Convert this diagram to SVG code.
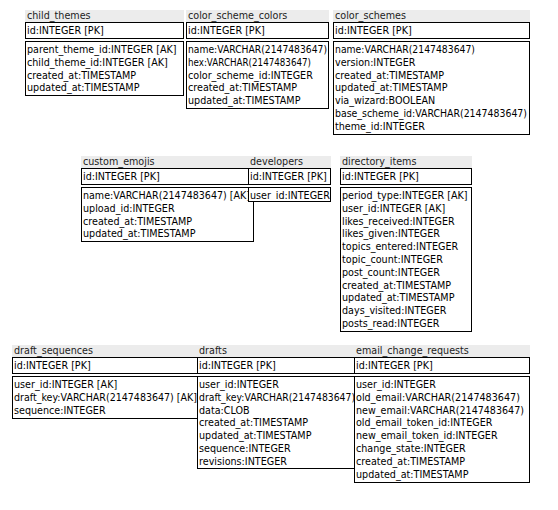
<svg xmlns="http://www.w3.org/2000/svg" width="558" height="510" viewBox="0 0 558 510">
  <style>
    .hdr { fill: #ececec; }
    .box { fill: #ffffff; stroke: #000000; stroke-width: 1; }
    text { font-family: "DejaVu Sans", "Liberation Sans", sans-serif; font-size: 9.6px; fill: #000000; }
    .name { fill: #222222; }
  </style>
  <rect width="558" height="510" fill="#ffffff"/>

  <!-- row 1 -->
  <g id="child_themes">
    <rect class="hdr" x="25" y="10" width="159" height="12"/>
    <text class="name" x="27" y="19">child_themes</text>
    <rect class="box" x="25.5" y="22.5" width="158" height="16"/>
    <text x="27" y="34">id:INTEGER [PK]</text>
    <rect class="box" x="25.5" y="41.5" width="158" height="54"/>
    <text x="27" y="53">parent_theme_id:INTEGER [AK]</text>
    <text x="27" y="65.8">child_theme_id:INTEGER [AK]</text>
    <text x="27" y="78.6">created_at:TIMESTAMP</text>
    <text x="27" y="91.4">updated_at:TIMESTAMP</text>
  </g>

  <g id="color_scheme_colors">
    <rect class="hdr" x="186" y="10" width="143" height="12"/>
    <text class="name" x="188" y="19">color_scheme_colors</text>
    <rect class="box" x="186.5" y="22.5" width="142" height="16"/>
    <text x="188" y="34">id:INTEGER [PK]</text>
    <rect class="box" x="186.5" y="41.5" width="142" height="67"/>
    <text x="188" y="53" textLength="139" lengthAdjust="spacingAndGlyphs">name:VARCHAR(2147483647)</text>
    <text x="188" y="65.8" textLength="123" lengthAdjust="spacingAndGlyphs">hex:VARCHAR(2147483647)</text>
    <text x="188" y="78.6">color_scheme_id:INTEGER</text>
    <text x="188" y="91.4">created_at:TIMESTAMP</text>
    <text x="188" y="104.2">updated_at:TIMESTAMP</text>
  </g>

  <g id="color_schemes">
    <rect class="hdr" x="333" y="10" width="197" height="12"/>
    <text class="name" x="335" y="19">color_schemes</text>
    <rect class="box" x="333.5" y="22.5" width="196" height="16"/>
    <text x="335" y="34">id:INTEGER [PK]</text>
    <rect class="box" x="333.5" y="41.5" width="196" height="93"/>
    <text x="335" y="53" textLength="140" lengthAdjust="spacingAndGlyphs">name:VARCHAR(2147483647)</text>
    <text x="335" y="65.8">version:INTEGER</text>
    <text x="335" y="78.6">created_at:TIMESTAMP</text>
    <text x="335" y="91.4">updated_at:TIMESTAMP</text>
    <text x="335" y="104.2">via_wizard:BOOLEAN</text>
    <text x="335" y="117" textLength="192" lengthAdjust="spacingAndGlyphs">base_scheme_id:VARCHAR(2147483647)</text>
    <text x="335" y="129.8">theme_id:INTEGER</text>
  </g>

  <!-- row 2 -->
  <g id="custom_emojis">
    <rect class="hdr" x="81" y="156" width="173" height="12"/>
    <text class="name" x="83" y="165">custom_emojis</text>
    <rect class="box" x="81.5" y="168.5" width="172" height="16"/>
    <text x="83" y="180">id:INTEGER [PK]</text>
    <rect class="box" x="81.5" y="187.5" width="172" height="54"/>
    <text x="83" y="199" textLength="167" lengthAdjust="spacingAndGlyphs">name:VARCHAR(2147483647) [AK]</text>
    <text x="83" y="211.8">upload_id:INTEGER</text>
    <text x="83" y="224.6">created_at:TIMESTAMP</text>
    <text x="83" y="237.4">updated_at:TIMESTAMP</text>
  </g>

  <g id="developers">
    <rect class="hdr" x="248" y="156" width="83" height="12"/>
    <text class="name" x="250" y="165">developers</text>
    <rect class="box" x="248.5" y="168.5" width="82" height="16"/>
    <text x="250" y="180">id:INTEGER [PK]</text>
    <rect class="box" x="248.5" y="187.5" width="82" height="14"/>
    <text x="250" y="199">user_id:INTEGER</text>
  </g>

  <g id="directory_items">
    <rect class="hdr" x="340" y="156" width="132" height="12"/>
    <text class="name" x="342" y="165">directory_items</text>
    <rect class="box" x="340.5" y="168.5" width="131" height="16"/>
    <text x="342" y="180">id:INTEGER [PK]</text>
    <rect class="box" x="340.5" y="187.5" width="131" height="144"/>
    <text x="342" y="199">period_type:INTEGER [AK]</text>
    <text x="342" y="211.8">user_id:INTEGER [AK]</text>
    <text x="342" y="224.6">likes_received:INTEGER</text>
    <text x="342" y="237.4">likes_given:INTEGER</text>
    <text x="342" y="250.2">topics_entered:INTEGER</text>
    <text x="342" y="263">topic_count:INTEGER</text>
    <text x="342" y="275.8">post_count:INTEGER</text>
    <text x="342" y="288.6">created_at:TIMESTAMP</text>
    <text x="342" y="301.4">updated_at:TIMESTAMP</text>
    <text x="342" y="314.2">days_visited:INTEGER</text>
    <text x="342" y="327">posts_read:INTEGER</text>
  </g>

  <!-- row 3 -->
  <g id="draft_sequences">
    <rect class="hdr" x="12" y="345" width="191" height="12"/>
    <text class="name" x="14" y="354">draft_sequences</text>
    <rect class="box" x="12.5" y="357.5" width="190" height="16"/>
    <text x="14" y="369">id:INTEGER [PK]</text>
    <rect class="box" x="12.5" y="376.5" width="190" height="42"/>
    <text x="14" y="388">user_id:INTEGER [AK]</text>
    <text x="14" y="400.8" textLength="183" lengthAdjust="spacingAndGlyphs">draft_key:VARCHAR(2147483647) [AK]</text>
    <text x="14" y="413.6">sequence:INTEGER</text>
  </g>

  <g id="drafts">
    <rect class="hdr" x="197" y="345" width="163" height="12"/>
    <text class="name" x="199" y="354">drafts</text>
    <rect class="box" x="197.5" y="357.5" width="162" height="16"/>
    <text x="199" y="369">id:INTEGER [PK]</text>
    <rect class="box" x="197.5" y="376.5" width="162" height="92"/>
    <text x="199" y="388">user_id:INTEGER</text>
    <text x="199" y="400.8" textLength="156" lengthAdjust="spacingAndGlyphs">draft_key:VARCHAR(2147483647)</text>
    <text x="199" y="413.6">data:CLOB</text>
    <text x="199" y="426.4">created_at:TIMESTAMP</text>
    <text x="199" y="439.2">updated_at:TIMESTAMP</text>
    <text x="199" y="452">sequence:INTEGER</text>
    <text x="199" y="464.8">revisions:INTEGER</text>
  </g>

  <g id="email_change_requests">
    <rect class="hdr" x="354" y="345" width="176" height="12"/>
    <text class="name" x="356" y="354">email_change_requests</text>
    <rect class="box" x="354.5" y="357.5" width="175" height="16"/>
    <text x="356" y="369">id:INTEGER [PK]</text>
    <rect class="box" x="354.5" y="376.5" width="175" height="106"/>
    <text x="356" y="388">user_id:INTEGER</text>
    <text x="356" y="400.8" textLength="164" lengthAdjust="spacingAndGlyphs">old_email:VARCHAR(2147483647)</text>
    <text x="356" y="413.6" textLength="168" lengthAdjust="spacingAndGlyphs">new_email:VARCHAR(2147483647)</text>
    <text x="356" y="426.4">old_email_token_id:INTEGER</text>
    <text x="356" y="439.2">new_email_token_id:INTEGER</text>
    <text x="356" y="452">change_state:INTEGER</text>
    <text x="356" y="464.8">created_at:TIMESTAMP</text>
    <text x="356" y="477.6">updated_at:TIMESTAMP</text>
  </g>
</svg>
